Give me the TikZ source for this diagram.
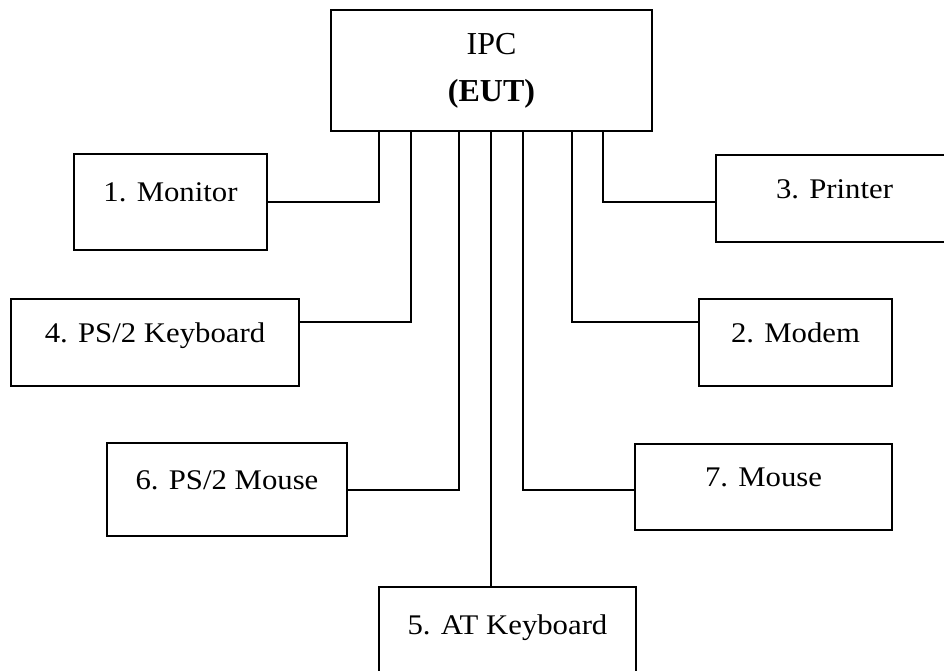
\documentclass[tikz,border=0pt]{standalone}
\usepackage{fontspec}
\setmainfont{Liberation Serif}
\newfontfamily\widefont{Liberation Serif}[FakeStretch=1.08]
\usepackage{tikz}
\usetikzlibrary{positioning, calc}

\begin{document}
\begin{tikzpicture}[x=0.02cm, y=-0.02cm,
          dev/.style={draw, line width=1.1pt, inner sep=0pt, align=center,
                      font=\widefont\fontsize{16.2}{19}\selectfont,
                      text height=1.2ex, text depth=1.2ex},
          wire/.style={line width=1.1pt}]
          \useasboundingbox (0,0) rectangle (944,671);
          % the EUT and its peripherals
          \node[draw, line width=1.1pt, align=center,
                font=\fontsize{18.2}{26.7}\selectfont,
                minimum width=6.42cm, minimum height=2.42cm] (ipc)
            at (491.5, 70.5) {IPC\\\textbf{(EUT)}};
          \node[dev, minimum width=3.86cm, minimum height=1.92cm] (mon)
            at (170.5, 202) {1. Monitor};
          \node[dev, minimum width=4.74cm, minimum height=1.74cm] (prn)
            at (834.5, 198.5) {3. Printer};
          \node[dev, minimum width=5.76cm, minimum height=1.74cm] (kbd)
            at (155, 342.5) {4. PS/2 Keyboard};
          \node[dev, minimum width=3.86cm, minimum height=1.74cm] (mdm)
            at (795.5, 342.5) {2. Modem};
          \node[dev, minimum width=4.80cm, minimum height=1.86cm] (ps2m)
            at (227, 489.5) {6. PS/2 Mouse};
          \node[dev, minimum width=5.14cm, minimum height=1.72cm] (mse)
            at (763.5, 487) {7. Mouse};
          \node[dev, minimum width=5.14cm, minimum height=1.90cm] (atk)
            at (507.5, 634.5) {5. AT Keyboard};
          % cables
          \draw[wire] (ipc.south -| 379,0) |- (mon.east |- 0,202);
          \draw[wire] (ipc.south -| 411,0) |- (kbd.east |- 0,322);
          \draw[wire] (ipc.south -| 459,0) |- (ps2m.east |- 0,490);
          \draw[wire] (ipc.south -| 491,0) -- (atk.north -| 491,0);
          \draw[wire] (ipc.south -| 523,0) |- (mse.west |- 0,490);
          \draw[wire] (ipc.south -| 572,0) |- (mdm.west |- 0,322);
          \draw[wire] (ipc.south -| 603,0) |- (prn.west |- 0,202);
        \end{tikzpicture}
\end{document}
